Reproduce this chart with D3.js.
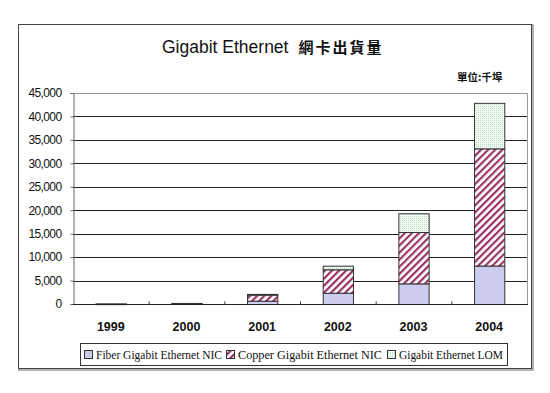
<!DOCTYPE html>
<html>
<head>
<meta charset="utf-8">
<script src="https://cdn.jsdelivr.net/npm/d3@7"></script>
<style>
  body { margin: 0; background: #fff; }
  svg { display: block; }
</style>
</head>
<body>
<div id="chart"></div>
<script>
// Chart data
const years = ['1999', '2000', '2001', '2002', '2003', '2004'];
const seriesNames = ['Fiber Gigabit Ethernet NIC', 'Copper Gigabit Ethernet NIC', 'Gigabit Ethernet LOM'];
const fiberValues = [80, 150, 700, 2400, 4400, 8200];
const copperValues = [20, 80, 1300, 5000, 10950, 25000];
const lomValues = [0, 0, 150, 770, 4000, 9700];
const yTicks = [0, 5000, 10000, 15000, 20000, 25000, 30000, 35000, 40000, 45000];

const W = 550, H = 393;
const plot = { left: 73, right: 527, top: 93, bottom: 304 };

const svg = d3.select('#chart')
  .append('svg')
  .attr('width', W)
  .attr('height', H);

// Patterns for the bar fills
const defs = svg.append('defs');
const hatch = defs.append('pattern')
  .attr('id', 'hatch')
  .attr('patternUnits', 'userSpaceOnUse')
  .attr('width', 5)
  .attr('height', 5)
  .attr('patternTransform', 'rotate(45)');
hatch.append('rect').attr('width', 5).attr('height', 5).attr('fill', '#fff');
hatch.append('rect').attr('x', 0).attr('width', 2.2).attr('height', 5).attr('fill', '#993366');

const dots = defs.append('pattern')
  .attr('id', 'dots')
  .attr('patternUnits', 'userSpaceOnUse')
  .attr('width', 2)
  .attr('height', 2);
dots.append('rect').attr('width', 2).attr('height', 2).attr('fill', '#f6fcf6');
dots.append('rect').attr('width', 1).attr('height', 1).attr('fill', '#b3dabd');

const fills = ['#ccccee', 'url(#hatch)', 'url(#dots)'];

// Outer frame with a slight shadow
svg.append('rect')
  .attr('x', 19).attr('y', 25).attr('width', 514).attr('height', 345)
  .attr('fill', 'none').attr('stroke', '#999').attr('stroke-width', 1.5);
svg.append('rect')
  .attr('x', 18.5).attr('y', 24.5).attr('width', 513).attr('height', 344)
  .attr('fill', '#fff').attr('stroke', '#444').attr('stroke-width', 1);

// Scales
const x = d3.scaleBand()
  .domain(years)
  .range([plot.left, plot.right])
  .paddingInner(0.6)
  .paddingOuter(0.3);

const y = d3.scaleLinear()
  .domain([0, 45000])
  .range([plot.bottom, plot.top]);

// Gridlines
svg.append('g')
  .selectAll('line')
  .data(yTicks.slice(1, -1))
  .enter()
  .append('line')
  .attr('x1', plot.left).attr('x2', plot.right)
  .attr('y1', d => Math.round(y(d)) + 0.5).attr('y2', d => Math.round(y(d)) + 0.5)
  .attr('stroke', '#222').attr('stroke-width', 1);

// Plot area border (top / right)
svg.append('path')
  .attr('d', `M${plot.left + 0.5},${plot.top + 0.5}H${plot.right + 0.5}V${plot.bottom}`)
  .attr('fill', 'none').attr('stroke', '#999');

// Y axis
const yAxis = svg.append('g')
  .attr('transform', `translate(${plot.left + 0.5},0)`)
  .call(d3.axisLeft(y).tickValues(yTicks).tickSize(3).tickFormat(d3.format(',')));
yAxis.select('.domain').attr('stroke', '#666');
yAxis.selectAll('.tick line').attr('stroke', '#666');
yAxis.selectAll('.tick text')
  .attr('x', -12)
  .style('font-family', 'Liberation Sans Narrow, Arial, sans-serif')
  .style('font-size', '12px')
  .style('letter-spacing', '-0.6px')
  .attr('fill', '#111');

// Stacked bars
const table = years.map((yr, i) => ({ year: yr, values: [fiberValues[i], copperValues[i], lomValues[i]] }));
const stacked = d3.stack()
  .keys([0, 1, 2])
  .value((d, k) => d.values[k])(table);

svg.append('g')
  .selectAll('g')
  .data(stacked)
  .enter()
  .append('g')
  .attr('fill', (d, i) => fills[i])
  .selectAll('rect')
  .data(d => d.filter(s => s[1] > s[0]))
  .enter()
  .append('rect')
  .attr('x', d => x(d.data.year) + 0.5)
  .attr('y', d => y(d[1]) + 0.5)
  .attr('width', x.bandwidth())
  .attr('height', d => Math.max(0.5, y(d[0]) - y(d[1])))
  .attr('stroke', '#333')
  .attr('stroke-width', 1);

// X axis
const xAxisG = svg.append('g')
  .attr('transform', `translate(0,${plot.bottom + 0.5})`);
xAxisG.append('line')
  .attr('x1', plot.left).attr('x2', plot.right + 1)
  .attr('stroke', '#222');
xAxisG.selectAll('line.tick')
  .data(years.slice(1))
  .enter()
  .append('line')
  .attr('class', 'tick')
  .attr('x1', d => x(d) - x.step() * 0.3 + 0.5)
  .attr('x2', d => x(d) - x.step() * 0.3 + 0.5)
  .attr('y1', -3).attr('y2', 0)
  .attr('stroke', '#333');
xAxisG.selectAll('text')
  .data(years)
  .enter()
  .append('text')
  .attr('x', d => x(d) + x.bandwidth() / 2)
  .attr('y', 26)
  .attr('text-anchor', 'middle')
  .style('font-family', 'Arial, Liberation Sans, sans-serif')
  .style('font-size', '12.5px')
  .style('font-weight', 'bold')
  .attr('fill', '#111')
  .text(d => d);

// Title
const title = svg.append('text')
  .attr('x', 162)
  .attr('y', 53)
  .attr('fill', '#111');
title.append('tspan')
  .style('font-family', 'Arial, Liberation Sans, sans-serif')
  .style('font-size', '17.5px')
  .text('Gigabit Ethernet');
title.append('tspan')
  .attr('dx', 10)
  .style('font-family', 'Noto Sans CJK TC, sans-serif')
  .style('font-size', '15px')
  .style('font-weight', 'bold')
  .style('letter-spacing', '2px')
  .text('網卡出貨量');

// Unit label
svg.append('text')
  .attr('x', 457)
  .attr('y', 81)
  .style('font-family', 'Noto Sans CJK TC, sans-serif')
  .style('font-size', '10.5px')
  .style('font-weight', 'bold')
  .attr('fill', '#111')
  .text('單位:千埠');

// Legend
const legend = svg.append('g');
legend.append('rect')
  .attr('x', 80.5).attr('y', 343.5).attr('width', 427).attr('height', 22)
  .attr('fill', '#fff').attr('stroke', '#333');

const legendX = [84, 226, 387];
const legendTextW = [126, 144, 104];
seriesNames.forEach((name, i) => {
  legend.append('rect')
    .attr('x', legendX[i] + 0.5).attr('y', 350.5)
    .attr('width', 8).attr('height', 8)
    .attr('fill', fills[i]).attr('stroke', '#333');
  legend.append('text')
    .attr('x', legendX[i] + 12)
    .attr('y', 359)
    .attr('textLength', legendTextW[i])
    .attr('lengthAdjust', 'spacingAndGlyphs')
    .style('font-family', 'Liberation Serif, Times New Roman, serif')
    .style('font-size', '12.5px')
    .attr('fill', '#111')
    .text(name);
});
</script>
</body>
</html>
